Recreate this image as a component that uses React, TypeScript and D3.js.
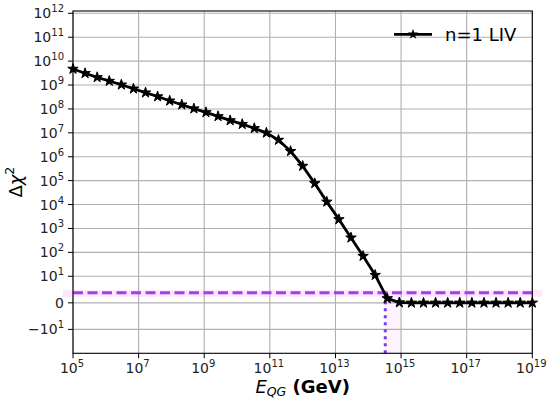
import { useEffect, useRef } from "react"
import * as d3 from "d3"

// energy grid (GeV) and Δχ²
const energies = [
  1.0e5, 2.336e5, 5.456e5, 1.274e6, 2.976e6, 6.952e6, 1.624e7, 3.793e7, 8.859e7, 2.069e8,
  4.833e8, 1.129e9, 2.637e9, 6.158e9, 1.438e10, 3.36e10, 7.848e10, 1.833e11, 4.281e11, 1.0e12,
  2.336e12, 5.456e12, 1.274e13, 2.976e13, 6.952e13, 1.624e14, 3.793e14, 8.859e14, 2.069e15, 4.833e15,
  1.129e16, 2.637e16, 6.158e16, 1.438e17, 3.36e17, 7.848e17, 1.833e18, 4.281e18, 1.0e19,
]
const deltaChi2 = [
  4.7e9, 3.1e9, 2.1e9, 1.47e9, 1.03e9, 7.0e8, 4.8e8, 3.3e8, 2.2e8, 1.5e8,
  1.03e8, 7.2e7, 4.9e7, 3.3e7, 2.3e7, 1.55e7, 1.0e7, 5.0e6, 1.7e6, 4.1e5,
  7.7e4, 1.3e4, 2.4e3, 410, 70, 11.2, 1.66, 0.1, 0, 0,
  0, 0, 0, 0, 0, 0, 0, 0, 0,
]
const xTicks = [1e5, 1e7, 1e9, 1e11, 1e13, 1e15, 1e17, 1e19]
const yTicks = [-10, 0, 10, 1e2, 1e3, 1e4, 1e5, 1e6, 1e7, 1e8, 1e9, 1e10, 1e11, 1e12]
const threshold = 3.84
const thresholdBand = [2.3, 4.8]
const energyLimit = 3.3e14
const limitBandEnd = 1e15
const seriesLabel = "n=1 LIV"

// matplotlib-style symlog, linthresh 10, linscale 1
const LINTHRESH = 10
const LINSCALE_ADJ = 1 / (1 - 1 / 10)
function symlog(v: number) {
  const a = Math.abs(v)
  if (a <= LINTHRESH) return (v * LINSCALE_ADJ) / LINTHRESH
  return Math.sign(v) * (LINSCALE_ADJ + Math.log10(a / LINTHRESH))
}

export default function App() {
  const svgRef = useRef<SVGSVGElement>(null)

  useEffect(() => {
    if (!svgRef.current) return
    const svg = d3.select(svgRef.current)
    svg.selectAll("*").remove()

    const left = 73
    const right = 532.3
    const top = 11
    const bottom = 353.3
    const font = "DejaVu Sans"

    const x = d3.scaleLog().domain([1e5, 1e19]).range([left, right])
    const yLin = d3.scaleLinear().domain([symlog(-100), symlog(1.25e12)]).range([bottom, top])
    const y = (v: number) => yLin(symlog(v))

    // grid
    const grid = svg.append("g").attr("stroke", "#b0b0b0").attr("stroke-width", 1.1)
    xTicks.forEach((t) => {
      grid.append("line").attr("x1", x(t)).attr("x2", x(t)).attr("y1", top).attr("y2", bottom)
    })
    yTicks.forEach((t) => {
      grid.append("line").attr("x1", left).attr("x2", right).attr("y1", y(t)).attr("y2", y(t))
    })

    // shaded bands
    svg
      .append("rect")
      .attr("x", left - 10)
      .attr("width", right - left + 20)
      .attr("y", y(thresholdBand[1]))
      .attr("height", y(thresholdBand[0]) - y(thresholdBand[1]))
      .attr("fill", "#ff55ff")
      .attr("fill-opacity", 0.15)
    svg
      .append("rect")
      .attr("x", x(energyLimit))
      .attr("width", x(limitBandEnd) - x(energyLimit))
      .attr("y", y(thresholdBand[0]))
      .attr("height", bottom - y(thresholdBand[0]))
      .attr("fill", "#ff55ff")
      .attr("fill-opacity", 0.07)

    // threshold lines
    svg
      .append("line")
      .attr("x1", left)
      .attr("x2", right)
      .attr("y1", y(threshold))
      .attr("y2", y(threshold))
      .attr("stroke", "#a23ef0")
      .attr("stroke-width", 3)
      .attr("stroke-dasharray", "10,4.5")
    svg
      .append("line")
      .attr("x1", x(energyLimit))
      .attr("x2", x(energyLimit))
      .attr("y1", bottom)
      .attr("y2", y(threshold))
      .attr("stroke", "#7a3fe6")
      .attr("stroke-width", 3)
      .attr("stroke-dasharray", "3,4")

    // curve
    const pts = energies.map((e, i) => [e, deltaChi2[i]] as [number, number])
    const line = d3
      .line<[number, number]>()
      .x((d) => x(d[0]))
      .y((d) => y(d[1]))
    svg
      .append("path")
      .datum(pts)
      .attr("fill", "none")
      .attr("stroke", "black")
      .attr("stroke-width", 2.8)
      .attr("stroke-linejoin", "round")
      .attr("d", line)

    const star = d3.symbol().type(d3.symbolStar).size(34)
    svg
      .append("g")
      .selectAll("path")
      .data(pts)
      .enter()
      .append("path")
      .attr("transform", (d) => `translate(${x(d[0])},${y(d[1])})`)
      .attr("d", star)
      .attr("fill", "black")
      .attr("stroke", "black")
      .attr("stroke-width", 1)

    // frame
    svg
      .append("rect")
      .attr("x", left)
      .attr("y", top)
      .attr("width", right - left)
      .attr("height", bottom - top)
      .attr("fill", "none")
      .attr("stroke", "black")
      .attr("stroke-width", 1.1)

    // x ticks
    const xt = svg.append("g").attr("font-family", font).attr("font-size", 14).attr("fill", "#222")
    xTicks.forEach((t) => {
      xt.append("line")
        .attr("x1", x(t))
        .attr("x2", x(t))
        .attr("y1", bottom)
        .attr("y2", bottom + 5)
        .attr("stroke", "black")
        .attr("stroke-width", 1)
      const txt = xt.append("text").attr("x", x(t) - 1).attr("y", bottom + 19.5).attr("text-anchor", "middle")
      txt.append("tspan").text("10")
      txt.append("tspan").attr("font-size", 10).attr("dy", -6).text(String(Math.round(Math.log10(t))))
    })

    // y ticks
    const yt = svg.append("g").attr("font-family", font).attr("font-size", 14).attr("fill", "#222")
    yTicks.forEach((t) => {
      yt.append("line")
        .attr("x1", left - 5)
        .attr("x2", left)
        .attr("y1", y(t))
        .attr("y2", y(t))
        .attr("stroke", "black")
        .attr("stroke-width", 1)
      const txt = yt.append("text").attr("x", left - 9).attr("y", y(t) + 5).attr("text-anchor", "end")
      if (t === 0) {
        txt.text("0")
      } else {
        txt.append("tspan").text((t < 0 ? "\u2212" : "") + "10")
        txt
          .append("tspan")
          .attr("font-size", 10)
          .attr("dy", -6)
          .text(String(Math.round(Math.log10(Math.abs(t)))))
      }
    })

    // axis labels
    const xl = svg
      .append("text")
      .attr("x", (left + right) / 2)
      .attr("y", 393)
      .attr("text-anchor", "middle")
      .attr("font-family", font)
      .attr("font-size", 18)
      .attr("fill", "black")
    xl.append("tspan").attr("font-style", "italic").text("E")
    xl.append("tspan").attr("font-style", "italic").attr("font-size", 12.5).attr("dy", 3).text("QG")
    xl.append("tspan").attr("font-weight", "bold").attr("dy", -3).text(" (GeV)")

    const yl = svg
      .append("text")
      .attr("transform", `translate(22,${(top + bottom) / 2}) rotate(-90)`)
      .attr("text-anchor", "middle")
      .attr("font-family", font)
      .attr("font-size", 18)
      .attr("fill", "black")
    yl.append("tspan").text("\u0394")
    yl.append("tspan").attr("font-style", "italic").text("\u03c7")
    yl.append("tspan").attr("font-size", 12.5).attr("dy", -8).text("2")

    // legend
    const lg = svg.append("g")
    lg.append("line")
      .attr("x1", 394)
      .attr("x2", 432)
      .attr("y1", 34.3)
      .attr("y2", 34.3)
      .attr("stroke", "black")
      .attr("stroke-width", 2.8)
    lg.append("path").attr("transform", "translate(413,34.3)").attr("d", star).attr("fill", "black")
    lg.append("text")
      .attr("x", 445)
      .attr("y", 40.8)
      .attr("font-family", font)
      .attr("font-size", 18)
      .attr("fill", "black")
      .text(seriesLabel)
  }, [])

  return (
    <svg
      ref={svgRef}
      width={550}
      height={404}
      style={{ position: "absolute", left: 0, top: 0, background: "white" }}
    />
  )
}
